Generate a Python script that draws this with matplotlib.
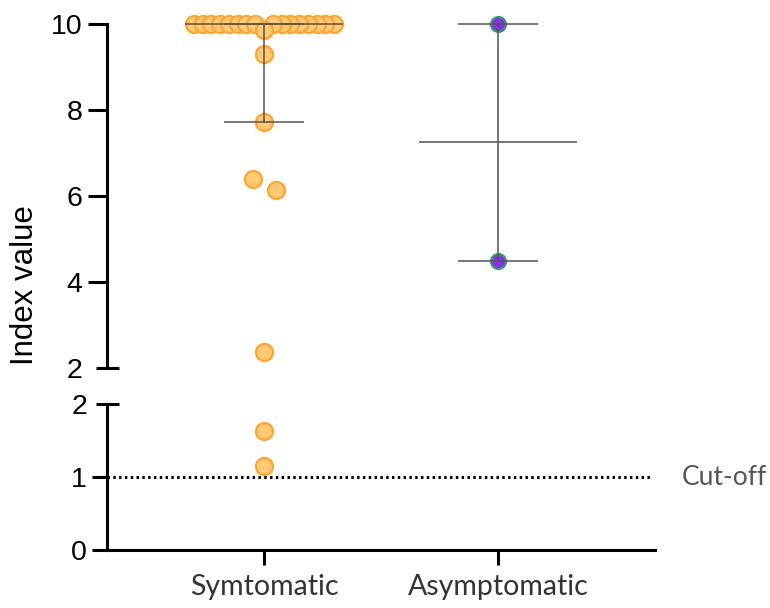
import numpy as np
import matplotlib.pyplot as plt

# data
groups = ['Symtomatic', 'Asymptomatic']
symptomatic = [10] * 16 + [9.86, 9.3, 7.73, 6.4, 6.15, 2.37, 1.63, 1.15]
asymptomatic = [10, 4.5]
medians = [10, 7.25]
q_low = [7.73, 4.5]
q_high = [10, 10]
cutoff = 1


def swarm(vals, center, step=0.098, width=0.6, tol=0.35):
    # simple row-based swarm: close values share a row, lowest goes in the middle
    vals = sorted(vals, reverse=True)
    xs, ys = [], []
    i = 0
    while i < len(vals):
        j = i
        while j + 1 < len(vals) and vals[i] - vals[j + 1] < tol:
            j += 1
        grp = vals[i:j + 1]
        n = len(grp)
        d = step if n < 2 else min(step, width / (n - 1))
        slots = (np.arange(n) - (n - 1) / 2) * d
        order = np.argsort(-np.abs(slots), kind='stable')
        for v, k in zip(grp, order):
            xs.append(center + slots[k])
            ys.append(v)
        i = j + 1
    return np.array(xs), np.array(ys)


fig = plt.figure(figsize=(7.7, 6.08), dpi=100)
ax_up = fig.add_axes([0.139, 0.3947, 0.7117, 0.5658])
ax_lo = fig.add_axes([0.139, 0.0954, 0.7117, 0.2401])

xlim = (-0.671, 1.671)

# styling of both axes
for ax in (ax_up, ax_lo):
    ax.set_xlim(xlim)
    ax.spines['top'].set_visible(False)
    ax.spines['right'].set_visible(False)
    ax.spines['left'].set_linewidth(2.2)
    ax.spines['bottom'].set_linewidth(2.2)

ax_up.spines['bottom'].set_visible(False)
ax_up.set_ylim(2, 10)
ax_up.set_yticks([2, 4, 6, 8, 10])
ax_up.set_yticklabels(['2', '4', '6', '8', '10'], family='Liberation Sans', fontsize=20.5)
ax_up.tick_params(axis='y', length=13.5, width=2.2, pad=4)
ax_up.yaxis.get_major_ticks()[0].tick1line.set_visible(False)
ax_up.set_xticks([])

ax_lo.set_ylim(0, 2)
ax_lo.set_yticks([0, 1, 2])
ax_lo.set_yticklabels(['0', '1', '2'], family='Liberation Sans', fontsize=20.5)
ax_lo.tick_params(axis='y', length=10.5, width=2.2, pad=4)
ax_lo.yaxis.get_major_ticks()[2].tick1line.set_visible(False)
ax_lo.set_xticks([0, 1])
ax_lo.set_xticklabels(groups, family='Lato', fontsize=20.5, color='#333333')
ax_lo.tick_params(axis='x', length=11, width=2.2, pad=6)

# break caps at 2
for ax in (ax_up, ax_lo):
    ax.plot([-0.021, 0.021], [2, 2], transform=ax.get_yaxis_transform(),
            color='black', lw=2.2, clip_on=False, solid_capstyle='butt')

# points
sx, sy = swarm(symptomatic, 0)
ax_x, ax_y = swarm(asymptomatic, 1)
sym_style = dict(s=150, facecolor='#FFCA74', edgecolor='#FFA42C', linewidth=1.6,
                 clip_on=False, zorder=3)
asy_style = dict(s=115, facecolor='#8E2BF0', edgecolor='#2E9E6A', linewidth=1.6,
                 clip_on=False, zorder=3)
ax_up.scatter(sx[sy >= 2], sy[sy >= 2], **sym_style)
ax_lo.scatter(sx[sy < 2], sy[sy < 2], **sym_style)
ax_up.scatter(ax_x, ax_y, **asy_style)

# median and quartile bars
bar_style = dict(color='#555555', lw=1.4, alpha=0.8, zorder=4, clip_on=False)
for i in range(len(groups)):
    ax_up.plot([i - 0.333, i + 0.333], [medians[i], medians[i]], **bar_style)
    ax_up.plot([i, i], [q_low[i], q_high[i]], **bar_style)
    for q in (q_low[i], q_high[i]):
        ax_up.plot([i - 0.167, i + 0.167], [q, q], **bar_style)

# cut-off line
ax_lo.axhline(cutoff, xmin=0, xmax=0.995, color='black', lw=2.2,
              dashes=(0.8, 1.1), zorder=1)
ax_lo.text(1.049, cutoff, 'Cut-off', transform=ax_lo.get_yaxis_transform(),
           ha='left', va='center', family='Lato', fontsize=19, color='#555555')

fig.text(25 / 770, 1 - 285 / 608, 'Index value', rotation=90, ha='center',
         va='center', family='Liberation Sans', fontsize=22.5)

plt.savefig('out.png', dpi=100)
